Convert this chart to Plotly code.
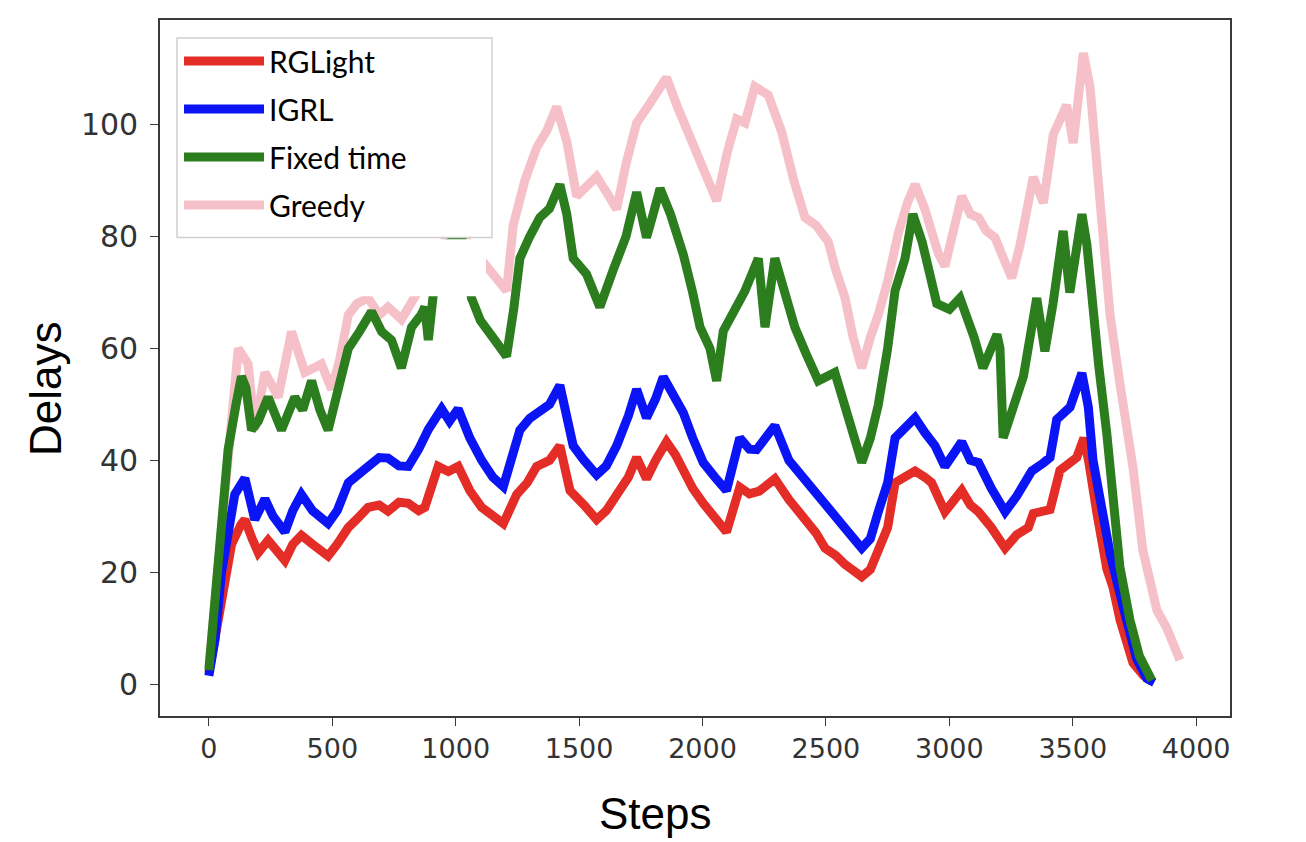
import plotly.graph_objects as go

# ---------------- data ----------------
rg_steps = [0, 25, 51, 92, 130, 146, 175, 200, 240, 270, 308, 340, 375, 420, 483, 520, 565, 600, 645, 690,
            726, 770, 808, 850, 875, 929, 970, 1010, 1057, 1105, 1150, 1193, 1247, 1290, 1328, 1380, 1422, 1463,
            1520, 1571, 1610, 1652, 1700, 1733, 1773, 1810, 1854, 1890, 1922, 1960, 2003, 2050, 2097, 2151, 2190,
            2230, 2293, 2350, 2415, 2460, 2496, 2540, 2577, 2645, 2680, 2712, 2750, 2780, 2820, 2861, 2900, 2928,
            2982, 3020, 3050, 3085, 3118, 3170, 3226, 3273, 3320, 3340, 3408, 3448, 3516, 3545, 3565, 3598, 3638,
            3663, 3692, 3744, 3787, 3820]
rg_vals = [2, 8, 14.8, 25, 28.5, 29.4, 26, 23.5, 25.7, 24, 22.1, 25, 26.6, 25, 22.9, 25, 28, 29.5, 31.6, 32,
           30.9, 32.5, 32.3, 31, 31.6, 38.9, 38, 38.9, 34.6, 31.6, 30, 28.7, 33.9, 36, 38.9, 40, 42.6, 34.6,
           32, 29.4, 31, 33.9, 37, 40.5, 36.7, 40, 43.3, 41, 38.1, 35, 32.3, 30, 27.2, 35.2, 34,
           34.5, 36.7, 33, 29.4, 27, 24.3, 23, 21.4, 19.2, 20.5, 23.5, 28, 36, 37, 38.1, 37, 36,
           30.8, 33, 34.6, 32, 30.8, 28, 24.3, 26.7, 28, 30.5, 31.2, 38.2, 40.5, 44, 39.7, 30.5, 20.6,
           17.3, 11.4, 3.8, 1.5, 0.5]

ig_steps = [0, 25, 51, 80, 105, 146, 186, 227, 260, 308, 340, 375, 420, 483, 520, 565, 600, 645, 690, 726,
            770, 808, 850, 889, 943, 975, 1010, 1057, 1105, 1150, 1193, 1230, 1260, 1300, 1340, 1380, 1422, 1476,
            1520, 1571, 1610, 1652, 1700, 1733, 1773, 1810, 1841, 1880, 1922, 1960, 2003, 2050, 2097, 2151, 2190,
            2219, 2260, 2293, 2350, 2415, 2460, 2509, 2577, 2645, 2680, 2712, 2750, 2780, 2820, 2861, 2900, 2942,
            2982, 3050, 3085, 3118, 3170, 3226, 3273, 3334, 3380, 3408, 3435, 3489, 3537, 3563, 3582, 3611, 3651,
            3705, 3759, 3800, 3830]
ig_vals = [1.5, 8, 19.9, 28, 33.9, 36.8, 29.4, 33.1, 30, 27.2, 31, 33.9, 31, 28.7, 31, 36, 37.5, 38.9, 40.5, 40.4,
           39, 38.9, 42, 45.5, 49.2, 47, 49.2, 44, 40, 37, 35.3, 41, 45.4, 47.5, 49, 50, 53.4, 42.6,
           40, 37.4, 39, 42.6, 48, 52.7, 47.6, 51, 54.9, 52, 48.5, 44, 39.6, 37, 34.6, 44, 42,
           41.9, 44, 46.2, 40, 36.7, 34, 31.5, 27.9, 24.3, 26, 30.8, 36, 44, 46, 47.6, 45, 42.6,
           38.9, 43.3, 40, 39.6, 35, 30.8, 33.6, 38.1, 39.5, 40.5, 47.3, 49.5, 55.6, 49.5, 40, 33, 23.4,
           13.7, 4.5, 1, 0.3]

ft_steps = [0, 24, 50, 78, 110, 132, 150, 173, 200, 240, 294, 320, 348, 380, 416, 450, 483, 520, 565, 610,
            659, 700, 740, 780, 821, 860, 875, 889, 910, 943, 980, 1024, 1064, 1100, 1150, 1206, 1235, 1260,
            1300, 1341, 1380, 1422, 1450, 1476, 1530, 1584, 1638, 1690, 1733, 1773, 1800, 1828, 1870, 1922,
            1960, 1990, 2030, 2057, 2084, 2130, 2172, 2226, 2253, 2293, 2330, 2374, 2420, 2469, 2536, 2577,
            2610, 2645, 2680, 2712, 2750, 2780, 2820, 2852, 2890, 2949, 3000, 3043, 3100, 3136, 3193, 3205,
            3218, 3259, 3300, 3354, 3387, 3420, 3461, 3488, 3510, 3537, 3557, 3577, 3605, 3638, 3663, 3691,
            3732, 3770, 3820]
ft_vals = [2.5, 16, 30, 41.9, 50, 55, 53, 45.4, 47, 51.3, 45.4, 48, 51.3, 49, 54.2, 49, 45.4, 52, 60, 63,
           66.6, 63, 61.5, 56.5, 63.8, 66, 67.4, 61.5, 70, 78.4, 79, 79.8, 69, 65, 62, 58.6, 67, 76.1,
           80, 83.4, 85, 89.3, 84, 76.1, 73.3, 67.4, 74, 80, 87.9, 79.8, 84, 88.6, 84, 76.8,
           70, 63.8, 60, 54.2, 63.1, 67, 70.3, 76.1, 63.8, 76.1, 70, 63.8, 59, 54.2, 55.7, 49.2,
           44, 39.6, 44, 49.9, 60, 70.3, 76, 84, 79, 68, 67, 69, 62, 56.5, 62.5, 60,
           44, 49.8, 55, 69, 59.5, 68, 81, 70, 76, 84, 78.6, 69, 57, 44.7, 32.8, 20.9,
           11.4, 5, 0.7]

gr_steps = [0, 25, 51, 80, 100, 119, 159, 186, 227, 281, 335, 389, 456, 497, 530, 565, 600, 645, 690, 726,
            780, 835, 889, 930, 970, 1010, 1057, 1100, 1138, 1180, 1206, 1233, 1280, 1328, 1370, 1409, 1450,
            1490, 1530, 1571, 1610, 1652, 1690, 1733, 1790, 1854, 1900, 1949, 2000, 2057, 2100, 2138, 2172,
            2212, 2266, 2320, 2370, 2415, 2460, 2509, 2540, 2577, 2610, 2645, 2680, 2712, 2750, 2793, 2830,
            2861, 2900, 2928, 2955, 2982, 3020, 3050, 3085, 3118, 3150, 3185, 3220, 3253, 3286, 3340, 3381,
            3421, 3475, 3502, 3543, 3570, 3611, 3651, 3691, 3744, 3784, 3841, 3881, 3934]
gr_vals = [3, 15, 30.8, 45, 55, 60, 57.2, 45.5, 55.7, 51.3, 63, 55.7, 57.2, 52.7, 58, 66, 68, 69, 66, 67.4,
           65.2, 69, 73.3, 78, 80, 82, 78.4, 76, 74, 72, 70.3, 82, 90, 95.9, 99, 103.2, 97,
           87.2, 89, 90.7, 88, 84.9, 93, 100.3, 104, 108.4, 103, 98, 93, 86.4, 95, 101, 100.3,
           106.8, 105.3, 98.8, 90, 83.4, 82, 79.1, 74, 69.1, 62, 56.5, 62, 66, 72, 80.6, 86,
           89.3, 85, 80.6, 77, 74.7, 82, 87.2, 84, 83.4, 81, 79.8, 76, 72.6, 78.4, 90.6, 86,
           98.2, 103.5, 96.7, 112.8, 106.7, 86, 66, 53.7, 38.7, 23.9, 13.2, 10, 4.3]

x_ticks = [0, 500, 1000, 1500, 2000, 2500, 3000, 3500, 4000]
y_ticks = [0, 20, 40, 60, 80, 100]

# ---------------- figure ----------------
OFF = 8  # page body margin of the exported html
W, H = 1306 - OFF, 842 - OFF
L, R, T, B = 160 - OFF, 76, 18 - OFF, 126
pw, ph = W - L - R, H - T - B


def px2paper_x(px):
    return (px - OFF - L) / pw


def px2paper_y(py):
    return (H - B - (py - OFF)) / ph


fig = go.Figure()
fig.add_trace(go.Scatter(x=gr_steps, y=gr_vals, mode="lines", name="Greedy", legendrank=4,
                         legendgroup="g4", line=dict(color="#f5c0c8", width=9)))
fig.add_trace(go.Scatter(x=rg_steps, y=rg_vals, mode="lines", name="RGLight", legendrank=1,
                         legendgroup="g1", line=dict(color="#e32d26", width=9)))
fig.add_trace(go.Scatter(x=ig_steps, y=ig_vals, mode="lines", name="IGRL", legendrank=2,
                         legendgroup="g2", line=dict(color="#0a14f5", width=9)))
fig.add_trace(go.Scatter(x=ft_steps, y=ft_vals, mode="lines", name="Fixed time", legendrank=3,
                         legendgroup="g3", line=dict(color="#2b7d1d", width=9)))

# legend frame (drawn as a shape so it can be as wide as in the reference)
fig.add_shape(type="rect", xref="paper", yref="paper",
              x0=px2paper_x(177), x1=px2paper_x(492), y0=px2paper_y(236), y1=px2paper_y(36),
              fillcolor="white", line=dict(color="#d0d0d0", width=1.5), layer="above")
# white pasted patch visible in the reference
fig.add_shape(type="rect", xref="paper", yref="paper",
              x0=px2paper_x(260), x1=px2paper_x(486), y0=px2paper_y(295), y1=px2paper_y(238),
              fillcolor="white", line=dict(width=0), layer="above")

# axis titles (placed where they sit in the reference)
title_font = dict(family="Liberation Sans, Arial", size=44, color="black")
fig.add_annotation(text="Steps", xref="paper", yref="paper", x=px2paper_x(655), y=px2paper_y(814),
                   xanchor="center", yanchor="middle", showarrow=False, font=title_font)
fig.add_annotation(text="Delays", xref="paper", yref="paper", x=px2paper_x(46), y=px2paper_y(388),
                   xanchor="center", yanchor="middle", showarrow=False, textangle=-90, font=title_font)

axis_common = dict(showgrid=False, zeroline=False, showline=True, mirror=True,
                   linecolor="#3a3a3a", linewidth=1.6, ticks="outside", ticklen=8,
                   tickwidth=1.4, tickcolor="#3a3a3a")

fig.update_layout(
    width=W, height=H,
    margin=dict(l=L, r=R, t=T, b=B),
    paper_bgcolor="white", plot_bgcolor="white",
    xaxis=dict(range=[-198, 4137], tickvals=x_ticks, ticktext=[str(v) for v in x_ticks],
               tickfont=dict(family="DejaVu Sans", size=27, color="#333333"),
               ticklabelstandoff=0,
               **axis_common),
    yaxis=dict(range=[-5.7, 118.7], tickvals=y_ticks, ticktext=[str(v) for v in y_ticks],
               tickfont=dict(family="DejaVu Sans", size=30, color="#333333"),
               ticklabelstandoff=6,
               **axis_common),
    legend=dict(x=px2paper_x(179), y=px2paper_y(33), xanchor="left", yanchor="top",
                bgcolor="rgba(0,0,0,0)", borderwidth=0,
                font=dict(family="Lato", size=30, color="black"),
                itemwidth=80, tracegroupgap=6, traceorder="grouped"),
    showlegend=True,
)

fig.write_html("out.html")
